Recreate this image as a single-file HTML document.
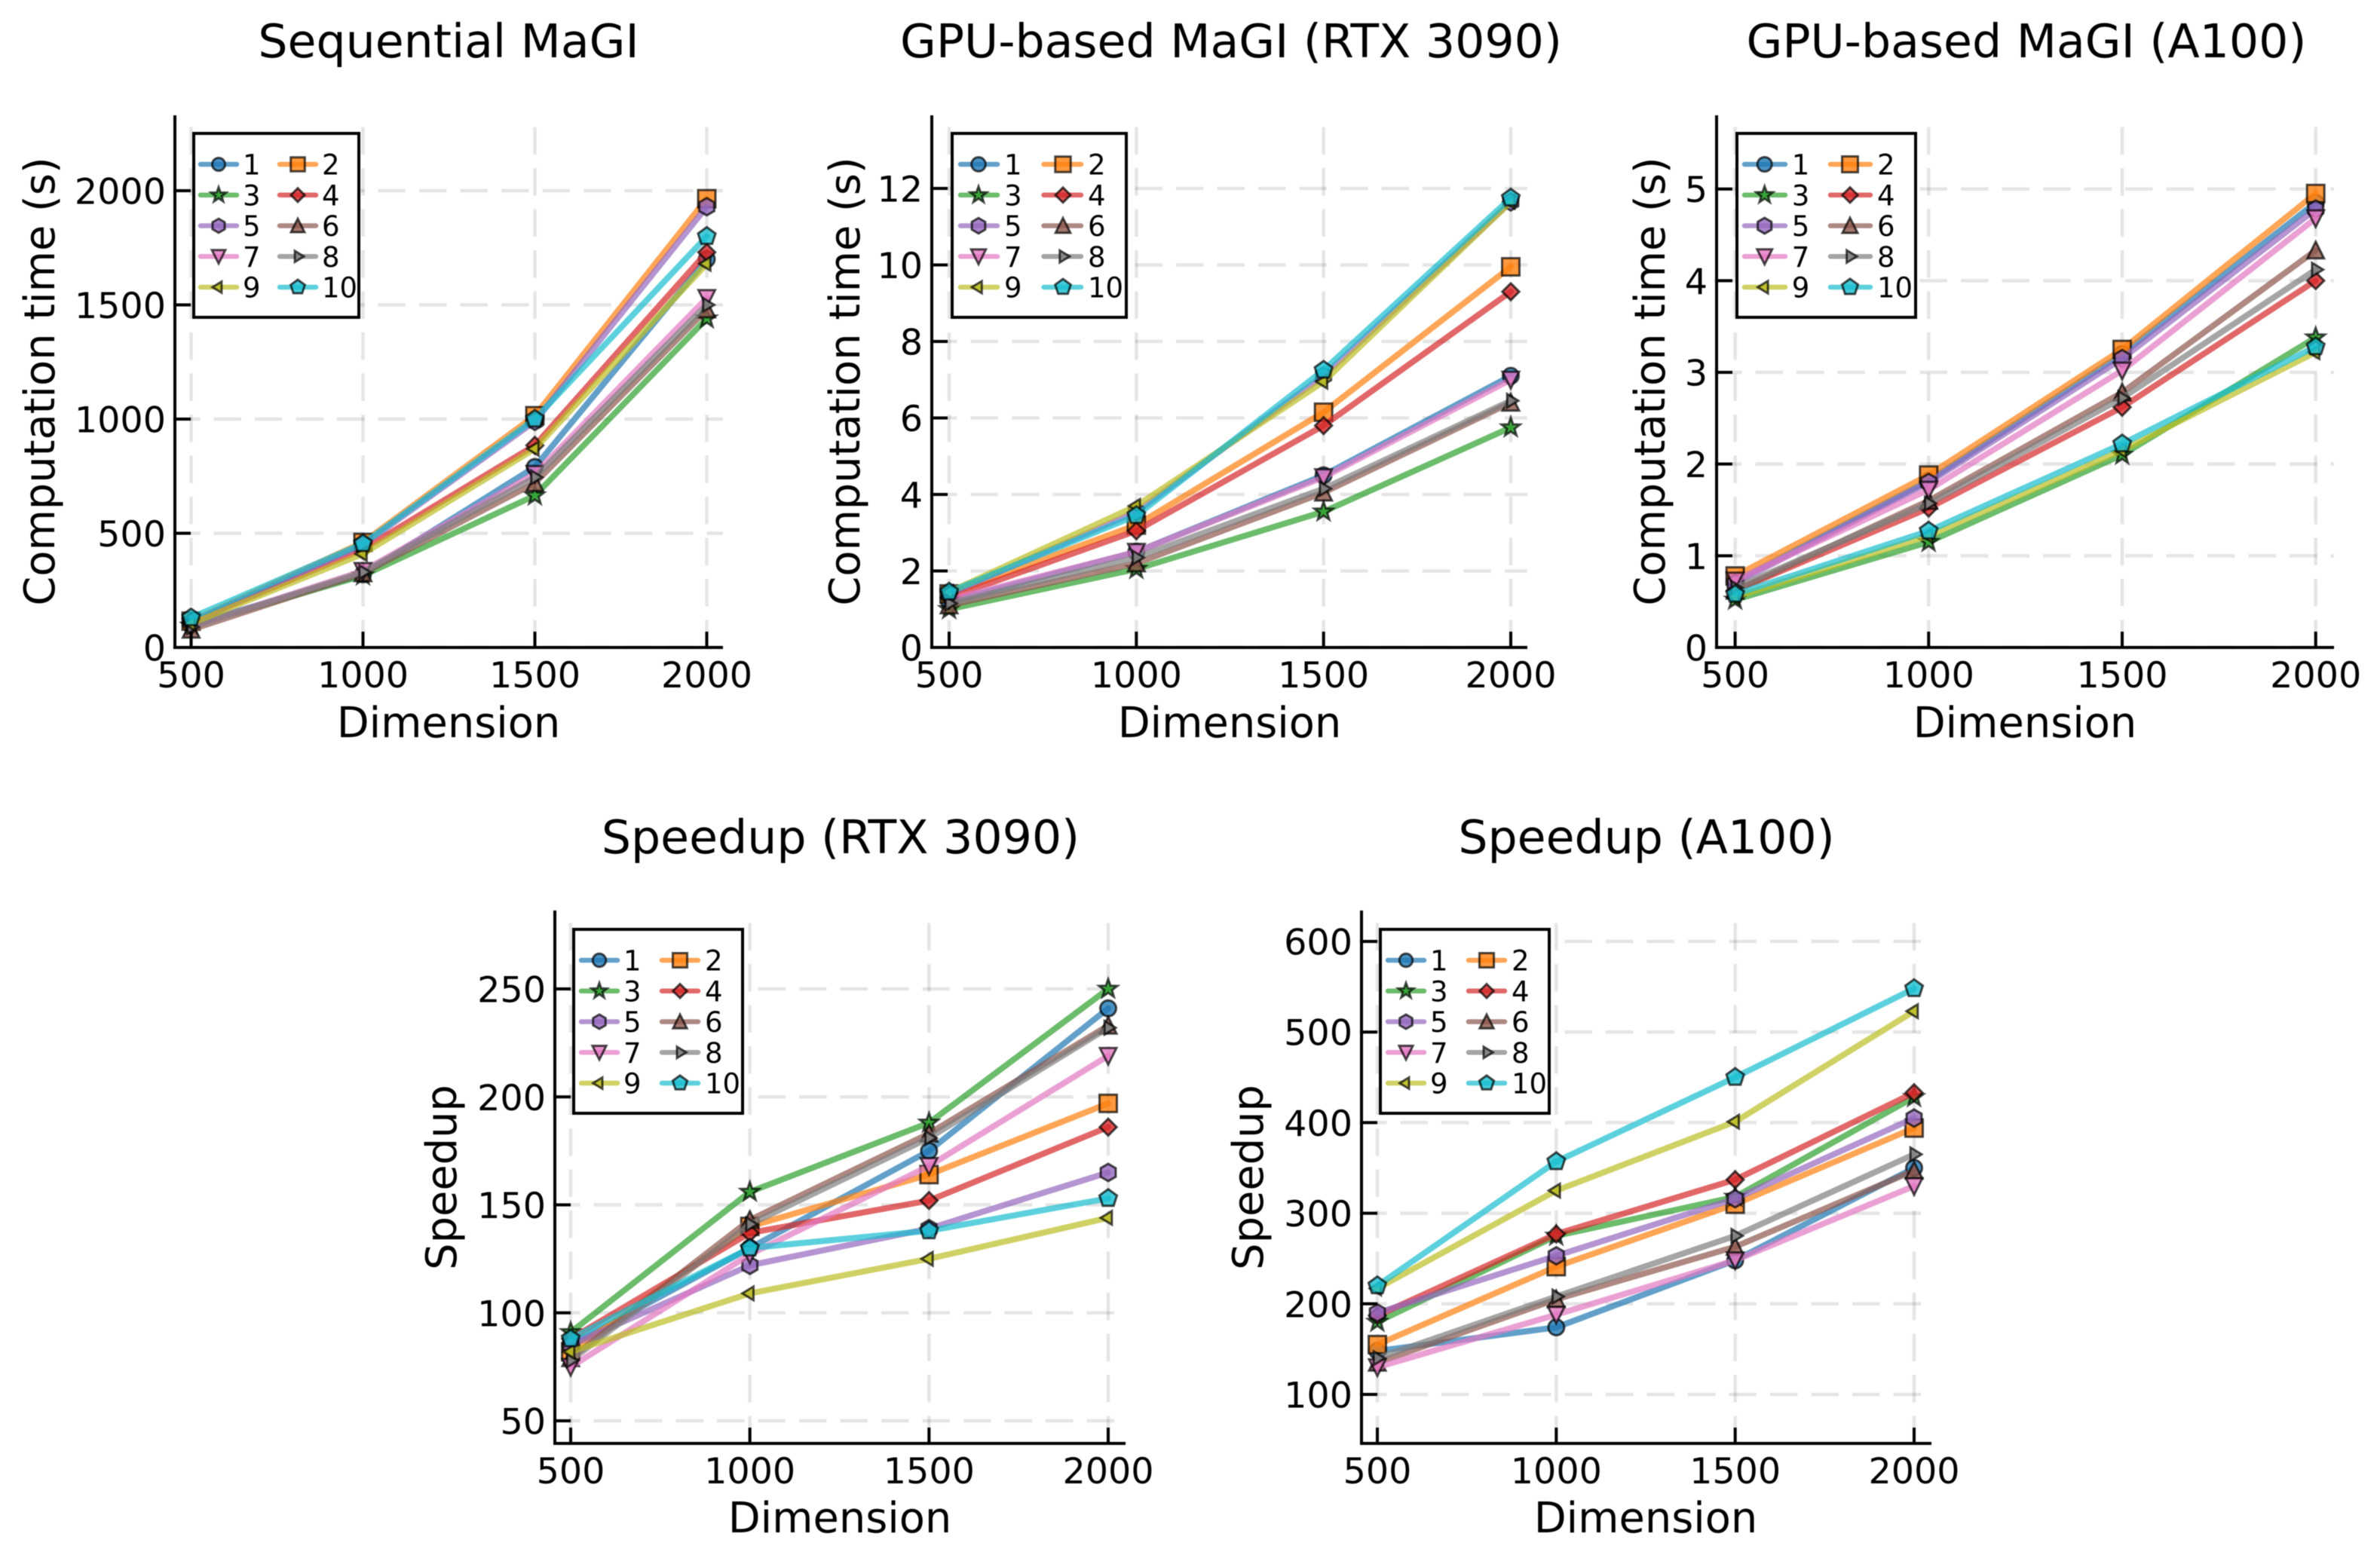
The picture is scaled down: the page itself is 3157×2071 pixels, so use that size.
<!DOCTYPE html>
<html lang="en">
<head>
<meta charset="utf-8">
<title>MaGI computation time and speedup</title>
<style>
  html, body { margin: 0; padding: 0; background: #fff; }
  svg { display: block; filter: blur(0.6px); }
  text { font-family: "DejaVu Sans", "Liberation Sans", sans-serif; fill: #000; }
  .title { font-size: 61.7px; text-anchor: middle; }
  .axis-label { font-size: 55.8px; text-anchor: middle; }
</style>
</head>
<body>
<svg id="figure" xmlns="http://www.w3.org/2000/svg" width="3157" height="2071" viewBox="0 0 3157 2071">
  <rect x="0" y="0" width="3157" height="2071" fill="#ffffff"/>

  <g id="panel-seq">
    <text class="title" x="595" y="76">Sequential MaGI</text>
    <text class="axis-label" x="595" y="978">Dimension</text>
    <text class="axis-label" transform="translate(72 506) rotate(-90)">Computation time (s)</text>
  </g>

  <g id="panel-rtx">
    <text class="title" x="1633" y="76">GPU-based MaGI (RTX 3090)</text>
    <text class="axis-label" x="1631" y="978">Dimension</text>
    <text class="axis-label" transform="translate(1140 506) rotate(-90)">Computation time (s)</text>
  </g>

  <g id="panel-a100">
    <text class="title" x="2688" y="76">GPU-based MaGI (A100)</text>
    <text class="axis-label" x="2686" y="978">Dimension</text>
    <text class="axis-label" transform="translate(2208 506) rotate(-90)">Computation time (s)</text>
  </g>

  <g id="panel-speed-rtx">
    <text class="title" x="1115" y="1132">Speedup (RTX 3090)</text>
    <text class="axis-label" x="1114" y="2033">Dimension</text>
    <text class="axis-label" transform="translate(605 1562) rotate(-90)">Speedup</text>
  </g>

  <g id="panel-speed-a100">
    <text class="title" x="2184" y="1132">Speedup (A100)</text>
    <text class="axis-label" x="2183" y="2033">Dimension</text>
    <text class="axis-label" transform="translate(1675 1562) rotate(-90)">Speedup</text>
  </g>
</svg>

<script>
// ---------- chart data ----------
const dimensions = [500, 1000, 1500, 2000];
const seriesLabels = ['1', '2', '3', '4', '5', '6', '7', '8', '9', '10'];

const sequentialTimes = [
  [100, 320, 790, 1700],
  [115, 460, 1015, 1965],
  [95, 315, 665, 1440],
  [110, 430, 885, 1730],
  [110, 450, 990, 1930],
  [78, 325, 720, 1480],
  [90, 335, 760, 1530],
  [90, 330, 745, 1500],
  [105, 410, 870, 1680],
  [130, 455, 1000, 1800]
];
const rtxTimes = [
  [1.2, 2.5, 4.5, 7.1],
  [1.4, 3.2, 6.15, 9.95],
  [1.0, 2.05, 3.55, 5.75],
  [1.3, 3.05, 5.8, 9.3],
  [1.4, 3.55, 7.1, 11.65],
  [1.1, 2.2, 4.05, 6.4],
  [1.25, 2.5, 4.45, 7.0],
  [1.15, 2.35, 4.15, 6.45],
  [1.45, 3.7, 6.95, 11.65],
  [1.45, 3.45, 7.25, 11.75]
];
const a100Times = [
  [0.72, 1.82, 3.2, 4.85],
  [0.78, 1.88, 3.25, 4.95],
  [0.52, 1.15, 2.1, 3.38],
  [0.62, 1.52, 2.62, 4.0],
  [0.7, 1.8, 3.15, 4.78],
  [0.62, 1.6, 2.78, 4.33],
  [0.73, 1.72, 3.02, 4.68],
  [0.65, 1.57, 2.72, 4.12],
  [0.55, 1.22, 2.15, 3.22],
  [0.58, 1.27, 2.22, 3.28]
];
const rtxSpeedup = [
  [85, 130, 175, 241],
  [82, 140, 164, 197],
  [91, 156, 188, 250],
  [88, 137, 152, 186],
  [85, 122, 139, 165],
  [79, 143, 183, 233],
  [75, 127, 168, 219],
  [78, 141, 181, 232],
  [82, 109, 125, 144],
  [88, 130, 138, 153]
];
const a100Speedup = [
  [148, 174, 248, 350],
  [155, 241, 310, 394],
  [180, 275, 318, 428],
  [187, 277, 337, 433],
  [190, 253, 316, 405],
  [135, 205, 263, 347],
  [130, 188, 248, 330],
  [140, 208, 275, 365],
  [217, 325, 401, 523],
  [220, 357, 450, 548]
];

const xTickLabels = [500, 1000, 1500, 2000];
const sequentialTicks = [0, 500, 1000, 1500, 2000];
const rtxTimeTicks = [0, 2, 4, 6, 8, 10, 12];
const a100TimeTicks = [0, 1, 2, 3, 4, 5];
const rtxSpeedupTicks = [50, 100, 150, 200, 250];
const a100SpeedupTicks = [100, 200, 300, 400, 500, 600];

// ---------- styling ----------
const palette = ['#1f77b4', '#ff7f0e', '#2ca02c', '#d62728', '#9467bd', '#8c564b', '#e377c2', '#7f7f7f', '#bcbd22', '#17becf'];
const markerKinds = ['circle', 'square', 'star', 'diamond', 'hexagon', 'tri-up', 'tri-down', 'tri-right', 'tri-left', 'pentagon'];
const SVG_NS = 'http://www.w3.org/2000/svg';

// ---------- panel layout: frame edges, scale anchors, legend box ----------
const panels = [
  { id: 'panel-seq', key: 'sequential', values: sequentialTimes, ticks: sequentialTicks,
    frame: { l: 232, r: 959, t: 153, b: 859 },
    xRange: [253.5, 937.5], yAnchor: [0, 2000], yRange: [859, 253],
    legend: { l: 257, r: 476, t: 177, b: 421, rowTop: 218, rowStep: 40.75,
      c1: [263, 317, 290, 322], c2: [368, 422, 395, 427], k: 0.81 } },
  { id: 'panel-rtx', key: 'rtx-3090-time', values: rtxTimes, ticks: rtxTimeTicks,
    frame: { l: 1236, r: 2026, t: 153, b: 859 },
    xRange: [1259, 2004], yAnchor: [0, 12], yRange: [859, 250],
    legend: { l: 1263, r: 1494, t: 177, b: 421, rowTop: 218, rowStep: 40.75,
      c1: [1271, 1326, 1298, 1332], c2: [1381.5, 1437, 1410, 1443], k: 0.89 } },
  { id: 'panel-a100', key: 'a100-time', values: a100Times, ticks: a100TimeTicks,
    frame: { l: 2277, r: 3096, t: 153, b: 859 },
    xRange: [2301.6, 3071.7], yAnchor: [0, 5], yRange: [859, 250.7],
    legend: { l: 2304, r: 2541, t: 177, b: 421, rowTop: 218, rowStep: 40.75,
      c1: [2311, 2371, 2340.7, 2376.7], c2: [2425, 2484, 2454, 2490], k: 0.91 } },
  { id: 'panel-speed-rtx', key: 'speedup-rtx-3090', values: rtxSpeedup, ticks: rtxSpeedupTicks,
    frame: { l: 736, r: 1493, t: 1208, b: 1915 },
    xRange: [757, 1470], yAnchor: [50, 250], yRange: [1885, 1312],
    legend: { l: 761, r: 985, t: 1233, b: 1477, rowTop: 1274, rowStep: 40.75,
      c1: [768, 822, 795, 827], c2: [875, 929, 902, 935], k: 0.83 } },
  { id: 'panel-speed-a100', key: 'speedup-a100', values: a100Speedup, ticks: a100SpeedupTicks,
    frame: { l: 1806, r: 2562, t: 1208, b: 1915 },
    xRange: [1827, 2539], yAnchor: [100, 600], yRange: [1850, 1249],
    legend: { l: 1831, r: 2055, t: 1233, b: 1477, rowTop: 1274, rowStep: 40.75,
      c1: [1838, 1892, 1865, 1897], c2: [1945, 1999, 1972, 2005], k: 0.83 } }
];

// ---------- helpers ----------
function make(tag, attrs) {
  const node = document.createElementNS(SVG_NS, tag);
  for (const name in attrs) node.setAttribute(name, attrs[name]);
  return node;
}
function linear(domain, range) {
  const slope = (range[1] - range[0]) / (domain[1] - domain[0]);
  return function (v) { return range[0] + (v - domain[0]) * slope; };
}
function radial(count, radius, startDeg, innerRadius) {
  const pts = [];
  const total = innerRadius ? count * 2 : count;
  for (let i = 0; i < total; i++) {
    const r = innerRadius && i % 2 ? innerRadius : radius;
    const a = (startDeg + i * 360 / total) * Math.PI / 180;
    pts.push([r * Math.cos(a), r * Math.sin(a)]);
  }
  return pts;
}
function markerPoints(kind) {
  if (kind === 'square') return [[-11.5, -11.5], [11.5, -11.5], [11.5, 11.5], [-11.5, 11.5]];
  if (kind === 'diamond') return [[0, -11.2], [11.2, 0], [0, 11.2], [-11.2, 0]];
  if (kind === 'star') return radial(5, 12.8, -90, 5.2);
  if (kind === 'hexagon') return radial(6, 11.5, -90);
  if (kind === 'pentagon') return radial(5, 12.2, -90);
  if (kind === 'tri-up') return [[0, -11.5], [11, 10.5], [-11, 10.5]];
  if (kind === 'tri-down') return [[0, 11.5], [11, -10.5], [-11, -10.5]];
  if (kind === 'tri-right') return [[10, 0], [-4.8, 9], [-4.8, -9]];
  if (kind === 'tri-left') return [[-10, 0], [4.8, 9], [4.8, -9]];
  return null;
}
function drawMarker(parent, seriesIndex, cx, cy, scale) {
  const kind = markerKinds[seriesIndex];
  const common = {
    fill: palette[seriesIndex], 'fill-opacity': 0.8,
    stroke: '#000', 'stroke-opacity': 0.7, 'stroke-width': 3, 'stroke-linejoin': 'miter'
  };
  let mark;
  if (kind === 'circle') {
    mark = make('circle', Object.assign({ cx: cx, cy: cy, r: 10.5 * scale }, common));
  } else {
    const pts = markerPoints(kind).map(function (p) {
      return (cx + p[0] * scale).toFixed(2) + ',' + (cy + p[1] * scale).toFixed(2);
    }).join(' ');
    mark = make('polygon', Object.assign({ points: pts }, common));
  }
  
  
  parent.appendChild(mark);
}

// ---------- panel rendering ----------
function drawPanel(panel) {
  const root = document.getElementById(panel.id);
  const frame = panel.frame;
  const xScale = linear([dimensions[0], dimensions[dimensions.length - 1]], panel.xRange);
  const yScale = linear(panel.yAnchor, panel.yRange);

  const gridGroup = make('g', {});
  
  
  root.appendChild(gridGroup);
  const gridStyle = { stroke: '#000', 'stroke-opacity': 0.1, 'stroke-width': 4.5, 'stroke-dasharray': '36.5 18' };

  xTickLabels.forEach(function (t) {
    const line = make('line', Object.assign({ x1: xScale(t), x2: xScale(t), y1: frame.b, y2: frame.t }, gridStyle));
    
    
    gridGroup.appendChild(line);
  });
  panel.ticks.forEach(function (t) {
    const line = make('line', Object.assign({ x1: frame.l - 3, x2: frame.r, y1: yScale(t), y2: yScale(t) }, gridStyle));
    
    
    gridGroup.appendChild(line);
  });

  panel.values.forEach(function (row, s) {
    const group = make('g', {});
    
    
    root.appendChild(group);
    const pts = row.map(function (v, i) {
      return xScale(dimensions[i]).toFixed(2) + ',' + yScale(v).toFixed(2);
    }).join(' ');
    const poly = make('polyline', {
      points: pts, fill: 'none', stroke: palette[s], 'stroke-opacity': 0.7,
      'stroke-width': 8, 'stroke-linejoin': 'round', 'stroke-linecap': 'round'
    });
    
    
    group.appendChild(poly);
    row.forEach(function (v, i) {
      drawMarker(group, s, xScale(dimensions[i]), yScale(v), 1);
    });
  });

  const axes = make('g', {});
  
  
  root.appendChild(axes);
  const leftSpine = make('line', { x1: frame.l, x2: frame.l, y1: frame.t, y2: frame.b + 2, stroke: '#000', 'stroke-width': 4 });
  
  
  axes.appendChild(leftSpine);
  const bottomSpine = make('line', { x1: frame.l - 2, x2: frame.r, y1: frame.b, y2: frame.b, stroke: '#000', 'stroke-width': 4 });
  
  
  axes.appendChild(bottomSpine);

  xTickLabels.forEach(function (t) {
    const tick = make('line', { x1: xScale(t), x2: xScale(t), y1: frame.b, y2: frame.b - 21, stroke: '#000', 'stroke-width': 4 });
    
    
    axes.appendChild(tick);
    const label = make('text', { x: xScale(t), y: frame.b + 53, 'text-anchor': 'middle', 'font-size': 47.6 });
    
    
    label.textContent = t;
    axes.appendChild(label);
  });
  panel.ticks.forEach(function (t) {
    const tick = make('line', { x1: frame.l, x2: frame.l + 21, y1: yScale(t), y2: yScale(t), stroke: '#000', 'stroke-width': 4 });
    
    
    axes.appendChild(tick);
    const label = make('text', { x: frame.l - 12, y: yScale(t) + 17.5, 'text-anchor': 'end', 'font-size': 47.6 });
    
    
    label.textContent = t;
    axes.appendChild(label);
  });

  const lg = panel.legend;
  const legend = make('g', {});
  
  
  root.appendChild(legend);
  const box = make('rect', { x: lg.l, y: lg.t, width: lg.r - lg.l, height: lg.b - lg.t, fill: '#fff', stroke: '#000', 'stroke-width': 4 });
  
  
  legend.appendChild(box);

  seriesLabels.forEach(function (name, s) {
    const col = s % 2 === 0 ? lg.c1 : lg.c2;
    const y = lg.rowTop + Math.floor(s / 2) * lg.rowStep;
    const entry = make('g', {});
    
    
    legend.appendChild(entry);
    const sample = make('line', {
      x1: col[0] + 3, x2: col[1] - 3, y1: y, y2: y, stroke: palette[s], 'stroke-opacity': 0.7,
      'stroke-width': 6.5, 'stroke-linecap': 'round'
    });
    
    
    entry.appendChild(sample);
    drawMarker(entry, s, col[2], y, lg.k);
    const text = make('text', { x: col[3], y: y + 13.5, 'font-size': 37 });
    
    
    text.textContent = name;
    entry.appendChild(text);
  });
}

panels.forEach(drawPanel);
</script>
</body>
</html>
